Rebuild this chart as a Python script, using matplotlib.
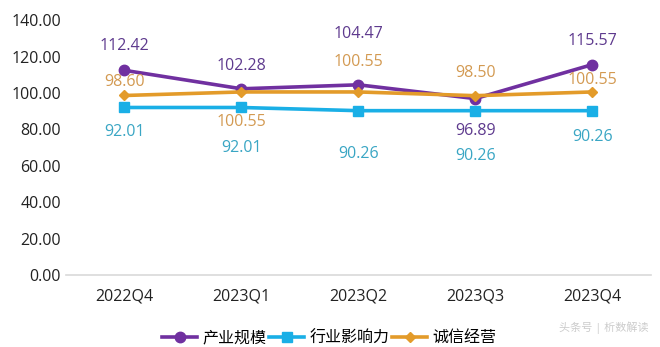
import matplotlib.pyplot as plt

plt.rcParams['font.family'] = ['Open Sans', 'Noto Sans CJK SC', 'DejaVu Sans']

quarters = ['2022Q4', '2023Q1', '2023Q2', '2023Q3', '2023Q4']
scale = [112.42, 102.28, 104.47, 96.89, 115.57]
influence = [92.01, 92.01, 90.26, 90.26, 90.26]
integrity = [98.60, 100.55, 100.55, 98.50, 100.55]

# label offsets in pixels (vertical)
scale_off = [24, 23, 51, -32, 24]
influence_off = [-25, -41, -43, -45, -26]
integrity_off = [13, -30, 30, 23, 12]

fig, ax = plt.subplots(figsize=(6.6, 3.47), dpi=100)
fig.subplots_adjust(left=0.1, right=0.986, bottom=0.2075, top=0.942)

x = range(len(quarters))
series = [
    ('产业规模', scale, '#7030A0', 'o', 7.5, '#5E3A8E', scale_off),
    ('行业影响力', influence, '#1AAFE6', 's', 7, '#3AA6C4', influence_off),
    ('诚信经营', integrity, '#E39B2A', 'D', 5, '#D39A52', integrity_off),
]
for name, vals, color, marker, ms, tcolor, offs in series:
    ax.plot(x, vals, color=color, lw=2.6, marker=marker, markersize=ms, label=name)
    for xi, v, o in zip(x, vals, offs):
        ax.annotate(f'{v:.2f}', (xi, v), xytext=(0, o), textcoords='offset pixels',
                    ha='center', va='center', fontsize=11.5, color=tcolor)

ax.set_ylim(0, 140)
ax.set_xlim(-0.5, 4.5)
ax.set_yticks(range(0, 141, 20))
ax.set_yticklabels([f'{v:.2f}' for v in range(0, 141, 20)])
ax.set_xticks(list(x))
ax.set_xticklabels(quarters)
ax.tick_params(axis='both', length=0, labelsize=11.5, colors='#222222')
ax.tick_params(axis='x', pad=10)
for s in ['top', 'right', 'left']:
    ax.spines[s].set_visible(False)
ax.spines['bottom'].set_color('#D9D9D9')
ax.spines['bottom'].set_linewidth(1.2)

ax.legend(loc='center', bbox_to_anchor=(0.45, -0.25), ncol=3, frameon=False,
          fontsize=11.5, handlelength=2.2, handletextpad=0.3, columnspacing=0.2)

fig.text(0.983, 0.055, '头条号 | 析数解读', ha='right', va='center', fontsize=8, color='#CCCCCC')

plt.savefig('out.png', dpi=100)
